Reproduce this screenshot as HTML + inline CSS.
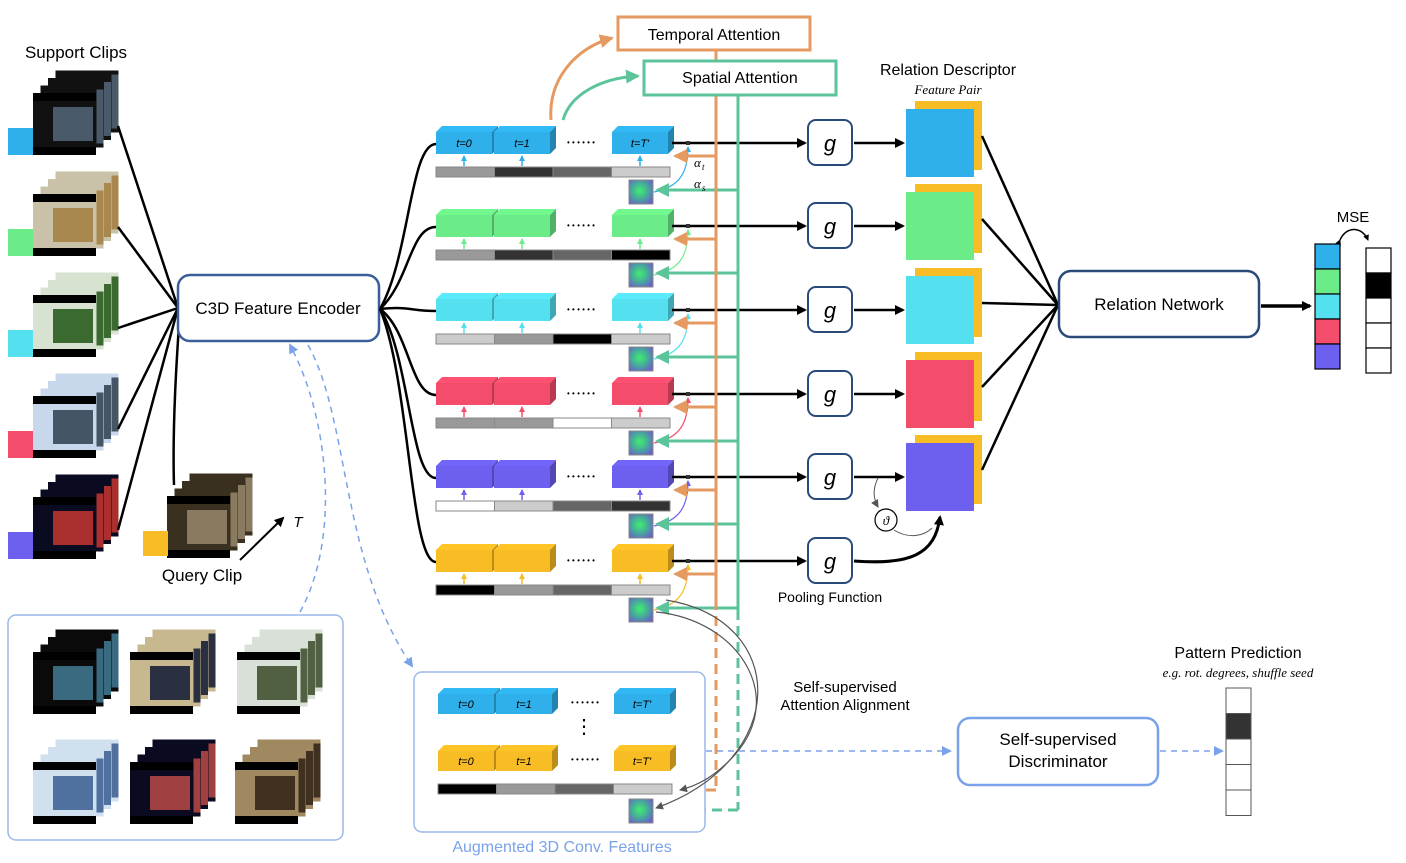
<!DOCTYPE html>
<html><head><meta charset="utf-8">
<style>
body{margin:0;background:#fff;}
svg{display:block;font-family:"Liberation Sans",sans-serif;}
</style></head>
<body>
<svg id="s" width="1406" height="863" viewBox="0 0 1406 863" xmlns="http://www.w3.org/2000/svg">
<defs>
<radialGradient id="att" cx="0.45" cy="0.45" r="0.65">
<stop offset="0" stop-color="#3cf070"/><stop offset="0.6" stop-color="#4aa0a0"/><stop offset="1" stop-color="#6a60c8"/>
</radialGradient>
<marker id="ab" markerWidth="10" markerHeight="10" refX="8" refY="5" orient="auto" markerUnits="userSpaceOnUse"><path d="M0,0 L10,5 L0,10z" fill="#000"/></marker>
<marker id="as" markerWidth="6" markerHeight="6" refX="5" refY="3" orient="auto" markerUnits="userSpaceOnUse"><path d="M0,0 L6,3 L0,6z" fill="context-stroke"/></marker>
<marker id="ao" markerWidth="14" markerHeight="14" refX="12" refY="7" orient="auto" markerUnits="userSpaceOnUse"><path d="M0,0 L14,7 L0,14z" fill="#e59a62"/></marker>
<marker id="ag" markerWidth="14" markerHeight="14" refX="12" refY="7" orient="auto" markerUnits="userSpaceOnUse"><path d="M0,0 L14,7 L0,14z" fill="#5cc49a"/></marker>
<marker id="al" markerWidth="10" markerHeight="10" refX="8" refY="5" orient="auto" markerUnits="userSpaceOnUse"><path d="M0,0 L10,5 L0,10z" fill="#7aa2e8"/></marker>
<marker id="agr" markerWidth="8" markerHeight="8" refX="7" refY="4" orient="auto" markerUnits="userSpaceOnUse"><path d="M0,0 L8,4 L0,8z" fill="#555"/></marker>
</defs>
<g id="g"></g>
</svg>
<script>
const rowColors=["#2fb0ea","#6cec88","#55e0f0","#f44d6c","#6e60ee","#f8bc24"];
const rowBars=[["#999","#333","#666","#ccc"],["#999","#333","#666","#000"],["#ccc","#999","#000","#ccc"],["#999","#999","#fff","#ccc"],["#fff","#ccc","#666","#333"],["#000","#999","#666","#ccc"]];
const clipTones=[["#111","#4a5a6a"],["#c9c2a8","#a98850"],["#d8e2d0","#3a6a30"],["#c8d8ec","#445566"],["#0a0a20","#aa3030"]];
const gEl=document.getElementById('g');
const NS="http://www.w3.org/2000/svg";
function el(tag,attrs,txt){const e=document.createElementNS(NS,tag);for(const k in attrs)e.setAttribute(k,attrs[k]);if(txt!==undefined)e.textContent=txt;gEl.appendChild(e);return e;}
function rect(x,y,w,h,f,st,sw,rx){return el('rect',{x,y,width:w,height:h,fill:f,stroke:st||'none','stroke-width':sw||0,rx:rx||0});}
function text(x,y,t,size,opt){opt=opt||{};return el('text',{x,y,'font-size':size,'text-anchor':opt.a||'middle',fill:opt.f||'#000','font-style':opt.i?'italic':'normal','font-family':opt.serif?'"Liberation Serif",serif':'"Liberation Sans",sans-serif'},t);}
function line(x1,y1,x2,y2,st,sw,extra){return el('line',Object.assign({x1,y1,x2,y2,stroke:st,'stroke-width':sw},extra||{}));}
function path(d,st,sw,extra){return el('path',Object.assign({d,stroke:st,'stroke-width':sw,fill:'none'},extra||{}));}
function shade(c,k){const n=parseInt(c.slice(1),16);let r=n>>16,g=(n>>8)&255,b=n&255;r=Math.round(r*k);g=Math.round(g*k);b=Math.round(b*k);return `rgb(${r},${g},${b})`;}
function block(x,y,w,h,c,label){
  const d=6;
  el('polygon',{points:`${x},${y} ${x+d},${y-d} ${x+w+d},${y-d} ${x+w},${y}`,fill:shade(c,1.05)});
  el('polygon',{points:`${x+w},${y} ${x+w+d},${y-d} ${x+w+d},${y+h-d} ${x+w},${y+h}`,fill:shade(c,0.75)});
  rect(x,y,w,h,c);
  if(label){text(x+w/2,y+h/2+4,label,11,{i:true});}
}
function clipStack(x,y,tones,name){
  const grp=el('g',{});
  
  
  for(let i=3;i>=0;i--){
    const ox=x+i*7.5,oy=y-i*7.5;
    rect(ox,oy,63,62,'#000');
    rect(ox,oy+(i==0?8:0),63,i==0?46:62,tones[0]);
    if(i==0){rect(ox+20,oy+14,40,34,tones[1]);}
    else rect(ox+56,oy+4,7,54,tones[1]);
  }
}
text(76,58,"Support Clips",17);
const clipTops=[93,194,295,396,497];
clipTops.forEach((t,i)=>{
  clipStack(33,t,clipTones[i],'support-clip-'+(i+1));
  const tag=rect(8,t+35,25,27,rowColors[i]);
  
  
  line(118,t+33,178,308,'#000',2.5);
});
clipStack(167,496,["#3a3020","#8a7a60"],'query-clip');
rect(143,531,25,25,rowColors[5]);
path("M174,485 C172,420 178,340 180,310","#000",2.5);
text(202,581,"Query Clip",17);
line(240,560,283,518,'#000',2,{'marker-end':'url(#ab)'});
text(298,527,"T",15,{i:true});
const enc=rect(178,275,201,66,'#fff','#3a5f9a',2.5,12);


text(278,314,"C3D Feature Encoder",17);
const rowY=[132,215,299,383,466,550];
rowY.forEach((y,i)=>{
  const c=rowColors[i];
  path(`M380,309 C410,${309+(y-309)*0.3} 410,${y+12} 436,${y+12}`,'#000',2.5);
  const lab=i==0;
  block(436,y,56,22,c,lab?"t=0":"");
  block(494,y,56,22,c,lab?"t=1":"");
  block(612,y,56,22,c,lab?"t=T'":"");
  text(581,y+13,"• • • • • •",8);
  rowBars[i].forEach((bc,j)=>{const b=rect(436+j*58.5,y+35,58.5,10,bc,'#888',1);});
  [464,522,640].forEach(x=>line(x,y+34,x,y+24,c,1.5,{'marker-end':'url(#as)'}));
  rect(629,y+48,24,24,'url(#att)','#888',1);
  path(`M654,${y+60} C680,${y+55} 688,${y+40} 688,${y+15}`,c,1.2,{'marker-end':'url(#as)'});
  line(672,y+11,805,y+11,'#000',2.5,{'marker-end':'url(#ab)'});
  rect(686,y+9,4,4,'#333');
  line(716,y+24,675,y+24,'#e59a62',3,{'marker-end':'url(#ao)'});
  line(738,y+58,657,y+58,'#5cc49a',3,{'marker-end':'url(#ag)'});
  const gb=rect(808,y-12,44,45,'#fff','#2a4a7a',2,8);
  
  
  text(830,y+19,"g",22,{i:true});
  if(i<5){
    line(854,y+11,903,y+11,'#000',2.5,{'marker-end':'url(#ab)'});
    rect(915,y-31,67,69,'#f8bc24');
    const d=rect(906,y-23,68,68,c);
    
    
    line(982,y+4,1058,305,'#000',2.5);
  }
});
text(694,167,"α",13,{i:true,serif:true,a:'start'});text(702,170,"t",9,{i:true,serif:true,a:'start'});
text(694,188,"α",13,{i:true,serif:true,a:'start'});text(702,191,"s",9,{i:true,serif:true,a:'start'});
text(830,602,"Pooling Function",14);
el('circle',{cx:886,cy:520,r:11,fill:'#fff',stroke:'#000','stroke-width':1.2});
text(886,525,"ϑ",13,{i:true,serif:true});
path("M878,478 C872,490 874,500 878,507","#555",1,{'marker-end':'url(#agr)'});
path("M854,561 C910,565 935,555 940,517","#000",3,{'marker-end':'url(#ab)'});
path("M894,530 C910,540 925,535 932,528","#555",1);
line(716,50,716,600,'#e59a62',3);
line(716,600,716,790,'#e59a62',3,{'stroke-dasharray':'10,6'});
line(738,95,738,610,'#5cc49a',3);
line(738,610,738,810,'#5cc49a',3,{'stroke-dasharray':'10,6'});
line(738,810,660,810,'#5cc49a',3,{'stroke-dasharray':'10,6'});
line(716,790,678,790,'#e59a62',3,{'marker-end':'url(#ao)','stroke-dasharray':'10,6'});
const ta=rect(618,17,192,33,'#fff','#e59a62',3);
text(714,40,"Temporal Attention",16);
const sa=rect(644,61,192,34,'#fff','#5cc49a',3);
text(740,83,"Spatial Attention",16);
path("M551,120 C548,80 575,48 612,38","#e59a62",3,{'marker-end':'url(#ao)'});
path("M563,120 C570,95 600,78 638,76","#5cc49a",3,{'marker-end':'url(#ag)'});
text(948,75,"Relation Descriptor",16);
text(948,94,"Feature Pair",13,{i:true,serif:true});
const rn=rect(1059,271,200,66,'#fff','#2a4a7a',2.5,12);
text(1159,310,"Relation Network",17);
line(1261,306,1310,306,'#000',3.5,{'marker-end':'url(#ab)'});
text(1353,222,"MSE",15);
path("M1340,240 C1346,226 1362,226 1368,240","#000",1.5,{'marker-end':'url(#as)','marker-start':'url(#as)'});
rowColors.slice(0,5).forEach((c,i)=>{const r=rect(1315,244+i*25,25,25,c,'#000',1.2);});
["#fff","#000","#fff","#fff","#fff"].forEach((c,i)=>{const r=rect(1366,248+i*25,25,25,c,'#000',1.2);});
const bl=rect(8,615,335,225,'#fff','#9ab8e8',1.5,8);
[[33,652,["#0a0a0a","#3a6a80"]],[130,652,["#c8b890","#2a3040"]],[237,652,["#d8e0d8","#506040"]],[33,762,["#d0e0ee","#5070a0"]],[130,762,["#0a0a20","#a04040"]],[235,762,["#a08860","#403020"]]].forEach((a,i)=>clipStack(a[0],a[1],a[2],'augmented-clip-'+(i+1)));
path("M300,612 C340,540 330,420 290,345","#7aa2e8",1.5,{'stroke-dasharray':'6,5','marker-end':'url(#al)'});
path("M308,345 C350,420 340,560 412,666","#7aa2e8",1.5,{'stroke-dasharray':'6,5','marker-end':'url(#al)'});
const ab=rect(414,672,291,160,'#fff','#9ab8e8',1.5,8);
block(438,694,56,20,"#2fb0ea","t=0");block(496,694,56,20,"#2fb0ea","t=1");block(614,694,56,20,"#2fb0ea","t=T'");
text(585,705,"• • • • • •",8);
text(584,733,"⋮",20);
block(438,751,56,20,"#f8bc24","t=0");block(496,751,56,20,"#f8bc24","t=1");block(614,751,56,20,"#f8bc24","t=T'");
text(585,762,"• • • • • •",8);
["#000","#999","#666","#ccc"].forEach((c,j)=>rect(438+j*58.5,784,58.5,10,c,'#888',1));
rect(629,799,24,24,'url(#att)','#888',1);
text(562,852,"Augmented 3D Conv. Features",16,{f:'#7aa2e8'});
path("M656,612 C740,620 790,700 730,760 C715,775 700,785 680,790","#555",1.2,{'marker-end':'url(#agr)'});
path("M666,600 C790,620 790,760 656,808","#555",1.2,{'marker-end':'url(#agr)'});
text(845,692,"Self-supervised",15);
text(845,710,"Attention Alignment",15);
line(706,751,950,751,'#7aa2e8',1.5,{'stroke-dasharray':'6,5','marker-end':'url(#al)'});
const sd=rect(958,718,200,67,'#fff','#7aa2e8',2.5,12);
text(1058,745,"Self-supervised",17);text(1058,767,"Discriminator",17);
line(1160,751,1222,751,'#7aa2e8',1.5,{'stroke-dasharray':'6,5','marker-end':'url(#al)'});
text(1238,658,"Pattern Prediction",16);
text(1238,677,"e.g. rot. degrees, shuffle seed",13,{i:true,serif:true});
["#fff","#333","#fff","#fff","#fff"].forEach((c,i)=>{const r=rect(1226,688+i*25.5,25,25.5,c,'#555',1);});
</script>
</body></html>
